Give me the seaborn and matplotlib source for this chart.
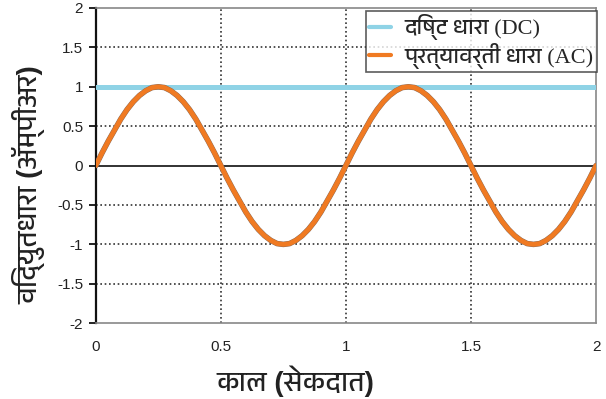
"""
DC vs AC current over time (Hindi labels).
"""

import numpy as np
import pandas as pd
import matplotlib
matplotlib.use("Agg")
import matplotlib.pyplot as plt
import matplotlib.patheffects as pe
import seaborn as sns
from matplotlib import font_manager

# Data (time step 0.025 s)
time_s = [round(0.025 * i, 3) for i in range(81)]
ac_current = [
    0.00, 0.16, 0.31, 0.45, 0.59, 0.71, 0.81, 0.89, 0.95, 0.99,
    1.00, 0.99, 0.95, 0.89, 0.81, 0.71, 0.59, 0.45, 0.31, 0.16,
    0.00, -0.16, -0.31, -0.45, -0.59, -0.71, -0.81, -0.89, -0.95, -0.99,
    -1.00, -0.99, -0.95, -0.89, -0.81, -0.71, -0.59, -0.45, -0.31, -0.16,
    0.00, 0.16, 0.31, 0.45, 0.59, 0.71, 0.81, 0.89, 0.95, 0.99,
    1.00, 0.99, 0.95, 0.89, 0.81, 0.71, 0.59, 0.45, 0.31, 0.16,
    0.00, -0.16, -0.31, -0.45, -0.59, -0.71, -0.81, -0.89, -0.95, -0.99,
    -1.00, -0.99, -0.95, -0.89, -0.81, -0.71, -0.59, -0.45, -0.31, -0.16,
    0.00,
]
dc_time = [0.0, 2.0]
dc_current = [1.0, 1.0]

x_ticks = [0, 0.5, 1, 1.5, 2]
x_tick_labels = ['0', '0.5', '1', '1.5', '2']
y_ticks = [-2, -1.5, -1, -0.5, 0, 0.5, 1, 1.5, 2]
y_tick_labels = ['-2', '-1.5', '-1', '-0.5', '0', '0.5', '1', '1.5', '2']

label_dc = 'दिष्ट धारा (DC)'
label_ac = 'प्रत्यावर्ती धारा (AC)'
x_label = 'काल (सेकदात)'
y_label = 'विद्युतधारा (अॅम्पीअर)'


def find_devanagari_family():
    """Look for an installed font covering Devanagari, preferring non-mono ones."""
    try:
        from fontTools.ttLib import TTFont
    except ImportError:
        return None
    found = []
    for path in font_manager.findSystemFonts():
        try:
            tt = TTFont(path, fontNumber=0, lazy=True)
            cmap = tt.getBestCmap()
            if cmap and 0x0927 in cmap:
                found.append(font_manager.FontProperties(fname=path).get_name())
        except Exception:
            continue
    if not found:
        return None
    found.sort(key=lambda n: ('Mono' in n, 'Devanagari' not in n, n))
    return found[0]


sns.set_style('white')
deva = find_devanagari_family()
extra = [deva] if deva else []
sans = ['Liberation Sans'] + extra + ['DejaVu Sans']
serif = ['Liberation Serif'] + extra + ['DejaVu Sans']
plt.rcParams['font.family'] = sans

dc_df = pd.DataFrame({'time': dc_time, 'current': dc_current})
ac_df = pd.DataFrame({'time': time_s, 'current': ac_current})

fig = plt.figure(figsize=(6.06, 3.99), dpi=100)
ax = fig.add_axes([0.158, 0.19, 0.8255, 0.79])

# grid and zero line
for yv in y_ticks:
    if yv in (-2, 0, 2):
        continue
    ax.axhline(yv, color='#333333', lw=1.2, ls=(0, (1, 1.6)), zorder=1)
for xv in [0.5, 1, 1.5]:
    ax.axvline(xv, color='#333333', lw=1.2, ls=(0, (1, 1.6)), zorder=1)
ax.axhline(0, color='#222222', lw=1.3, zorder=2)

sns.lineplot(data=dc_df, x='time', y='current', ax=ax, color='#8fd3e6',
             lw=3.6, label=label_dc, zorder=3)
sns.lineplot(data=ac_df, x='time', y='current', ax=ax, color='#f07a22',
             lw=3.4, label=label_ac, zorder=4, solid_joinstyle='round',
             path_effects=[pe.Stroke(linewidth=4.0, foreground='#8a6a58'), pe.Normal()])

ax.set_xlim(0, 2)
ax.set_ylim(-2, 2)
ax.set_xticks(x_ticks)
ax.set_xticklabels(x_tick_labels)
ax.set_yticks(y_ticks)
ax.set_yticklabels(y_tick_labels)
ax.tick_params(axis='x', length=0, pad=12, labelsize=11, labelcolor='#222222')
ax.tick_params(axis='y', length=5, width=1.3, color='#111111', pad=4,
               labelsize=11, labelcolor='#222222', left=True)

for side in ['top', 'right', 'bottom']:
    ax.spines[side].set_color('#888888')
    ax.spines[side].set_linewidth(1.2)
ax.spines['left'].set_color('#111111')
ax.spines['left'].set_linewidth(1.6)

ax.set_xlabel(x_label, fontsize=20, fontweight='bold', color='#222222')
ax.set_ylabel(y_label, fontsize=20, fontweight='bold', color='#222222')
ax.xaxis.set_label_coords(0.40, -0.135)
ax.yaxis.set_label_coords(-0.10, 0.44)

leg = ax.legend(loc='upper right', bbox_to_anchor=(1.002, 0.99), frameon=True,
                fancybox=False, edgecolor='#333333', handlelength=1.0,
                handletextpad=0.6, borderpad=0.15, labelspacing=0.1,
                borderaxespad=0.0, prop={'family': serif, 'size': 16})
leg.get_frame().set_linewidth(1.2)
for line in leg.get_lines():
    line.set_linewidth(3)
    line.set_path_effects([])

fig.savefig('out.png', dpi=100)
plt.close(fig)
